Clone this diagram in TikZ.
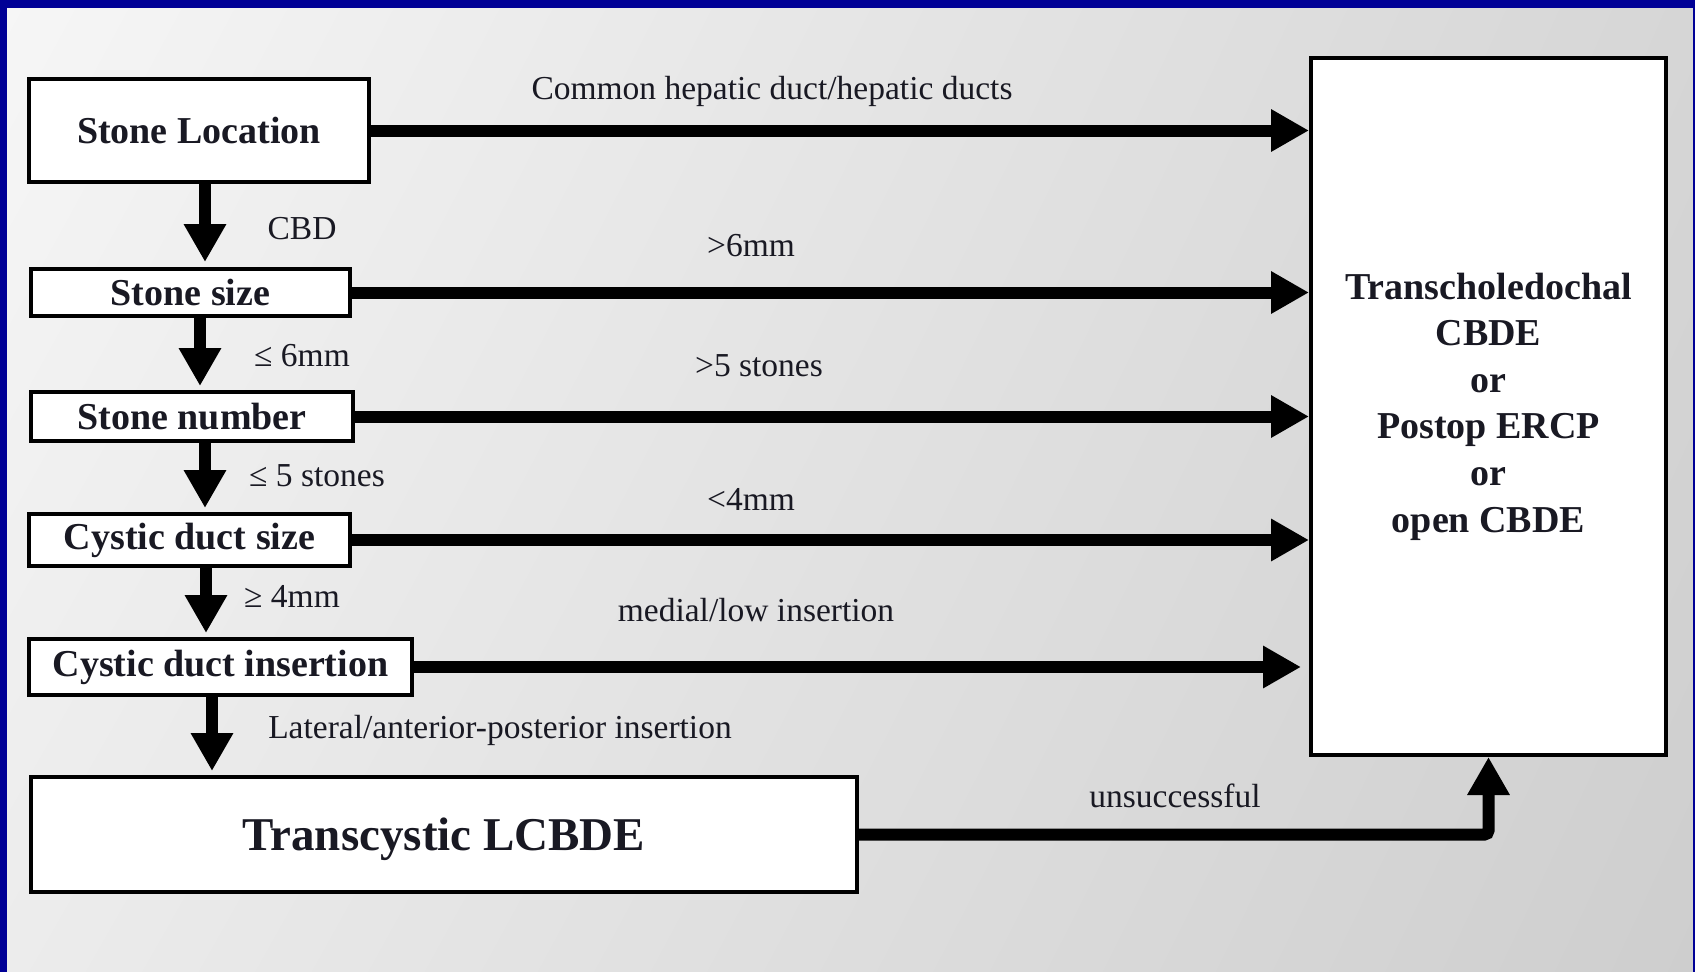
\documentclass[tikz,border=0pt]{standalone}
\usepackage{fontspec}
\setmainfont{Liberation Serif}
\usetikzlibrary{arrows.meta,shadings}
\definecolor{frameblue}{RGB}{0,0,150}
\definecolor{txt}{RGB}{25,25,35}
\definecolor{bgul}{RGB}{246,246,246}
\definecolor{bgur}{RGB}{214,214,214}
\definecolor{bgll}{RGB}{236,236,236}
\definecolor{bglr}{RGB}{206,206,206}
\tikzset{
  box/.style={draw=black, line width=4pt, fill=white, inner sep=0pt, text=txt,
    font=\fontsize{38}{46.6}\selectfont\bfseries},
  arr/.style={line width=12pt, -{Triangle[length=38pt,width=40pt]}},
  lbl/.style={font=\fontsize{33.5}{40}\selectfont, text=txt, inner sep=0pt},
}
\begin{document}
\begin{tikzpicture}[x=1pt,y=-1pt]
\useasboundingbox (0,0) rectangle (1695,972);
\shade[upper left=bgul, upper right=bgur, lower left=bgll, lower right=bglr]
  (0,0) rectangle (1695,972);
\fill[frameblue] (0,0) rectangle (1695,8);
\fill[frameblue] (0,0) rectangle (7,972);
\fill[frameblue] (1693,0) rectangle (1695,972);

% boxes
\node[box, minimum width=340pt, minimum height=103pt] (sl) at (199,130.5) {Stone Location};
\node[box, minimum width=319pt, minimum height=47pt] (ss) at (190.5,292.5) {Stone size};
\node[box, minimum width=322pt, minimum height=49pt] (sn) at (192,416.5) {Stone number};
\node[box, minimum width=321pt, minimum height=52pt] (cds) at (189.5,540) {Cystic duct size};
\node[box, minimum width=383pt, minimum height=56pt] (cdi) at (220.5,667) {Cystic duct insertion};
\node[box, minimum width=826pt, minimum height=115pt, text depth=0pt, font=\fontsize{47}{56}\selectfont\bfseries] (tc) at (444,834.5) {Transcystic LCBDE};
\node[box, minimum width=355pt, minimum height=697pt, align=center] (rb) at (1488.5,406.5)
  {Transcholedochal\\CBDE\\or\\Postop ERCP\\or\\open CBDE};

% horizontal arrows
\draw[arr] (sl.east) -- (sl.east -| rb.west);
\draw[arr] (ss.east) -- (ss.east -| rb.west);
\draw[arr] (sn.east) -- (sn.east -| rb.west);
\draw[arr] (cds.east) -- (cds.east -| rb.west);
\draw[arr, shorten >=8pt] (cdi.east) -- (cdi.east -| rb.west);

% vertical arrows
\draw[arr, shorten >=5pt] ([xshift=6pt]sl.south) -- ([xshift=6pt]sl.south |- ss.north);
\draw[arr, shorten >=4pt] ([xshift=9.5pt]ss.south) -- ([xshift=9.5pt]ss.south |- sn.north);
\draw[arr, shorten >=4pt] ([xshift=13pt]sn.south) -- ([xshift=13pt]sn.south |- cds.north);
\draw[arr, shorten >=4pt] ([xshift=16.5pt]cds.south) -- ([xshift=16.5pt]cds.south |- cdi.north);
\draw[arr, shorten >=4pt] ([xshift=-8.5pt]cdi.south) -- ([xshift=-8.5pt]cdi.south |- tc.north);

% unsuccessful
\draw[arr, rounded corners=4pt] (tc.east) -| (rb.south);

% labels
\node[lbl] (l1) at (772,91) {Common hepatic duct/hepatic ducts};
\node[lbl] (l2) at (751,246) {>6mm};
\node[lbl] (l3) at (759,366) {>5 stones};
\node[lbl] (l4) at (751,499) {<4mm};
\node[lbl] (l5) at (756,610) {medial/low insertion};
\node[lbl] (v1) at (302,229) {CBD};
\node[lbl] (v2) at (302,356) {≤ 6mm};
\node[lbl] (v3) at (317,476) {≤ 5 stones};
\node[lbl] (v4) at (292,596) {≥ 4mm};
\node[lbl] (v5) at (500,730) {Lateral/anterior-posterior insertion};
\node[lbl] (u1) at (1175,796) {unsuccessful};
\end{tikzpicture}
\end{document}
